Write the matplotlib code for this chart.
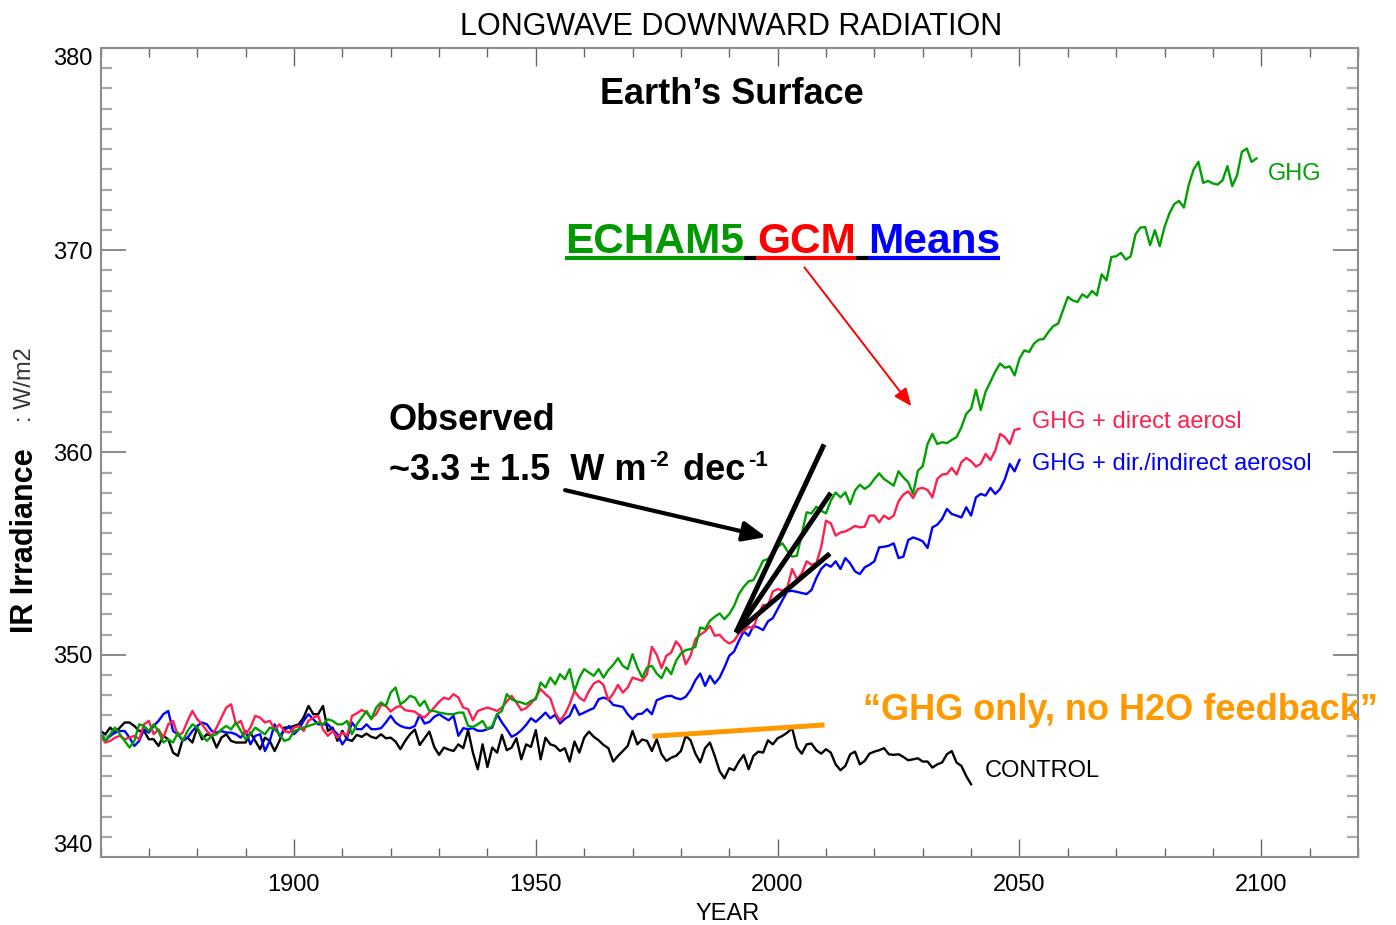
import numpy as np
import matplotlib
matplotlib.use("Agg")
import matplotlib.pyplot as plt
from matplotlib.lines import Line2D
from matplotlib.ticker import MultipleLocator

# ---------------- data ----------------
ghg = [
    346.15, 345.74, 346.07, 346.40, 346.07, 345.74, 345.41, 345.74, 346.56, 346.48,
    346.23, 346.56, 346.23, 345.66, 345.82, 345.66, 346.15, 345.74, 346.23, 346.56,
    346.40, 345.99, 345.74, 345.99, 346.07, 346.31, 346.48, 346.31, 346.65, 346.23,
    345.82, 346.07, 346.40, 346.23, 346.07, 346.40, 346.31, 346.07, 345.74, 345.82,
    346.23, 346.31, 346.40, 346.48, 346.56, 346.65, 346.56, 346.81, 346.73, 346.56,
    346.56, 346.73, 346.07, 346.56, 346.89, 347.22, 346.81, 347.39, 347.64, 347.47,
    348.13, 348.38, 347.55, 347.72, 347.97, 347.88, 347.47, 347.72, 347.22, 347.22,
    347.14, 347.10, 347.06, 347.06, 347.14, 347.14, 346.48, 346.43, 346.56, 346.73,
    346.32, 346.48, 347.06, 347.22, 348.05, 347.80, 347.69, 347.64, 347.55, 347.72,
    347.80, 348.63, 348.38, 348.87, 348.54, 349.04, 348.79, 349.29, 348.21, 348.87,
    349.29, 349.12, 348.96, 349.29, 348.87, 349.24, 349.50, 349.83, 349.45, 349.29,
    350.03, 349.37, 348.87, 349.37, 349.45, 349.07, 348.84, 349.37, 349.04, 349.70,
    350.06, 350.23, 350.28, 350.39, 351.35, 351.27, 351.68, 351.88, 352.04, 351.76,
    352.01, 352.42, 353.00, 353.36, 353.63, 353.69, 354.15, 354.65, 354.73, 355.06,
    355.34, 355.51, 355.14, 354.85, 354.90, 355.97, 357.04, 356.99, 357.32, 357.12,
    356.99, 357.62, 358.02, 357.78, 358.03, 357.45, 358.12, 358.41, 358.20, 358.36,
    358.69, 358.97, 358.69, 358.53, 358.36, 359.07, 358.77, 358.53, 357.95, 359.10,
    359.32, 360.42, 360.92, 360.42, 360.51, 360.46, 360.62, 360.76, 361.25, 361.91,
    362.16, 363.10, 362.10, 363.00, 363.50, 364.00, 364.40, 364.19, 364.26, 363.81,
    364.64, 365.05, 364.97, 365.38, 365.58, 365.61, 365.96, 366.25, 366.37, 367.03,
    367.69, 367.52, 367.44, 367.82, 367.66, 367.99, 367.77, 368.81, 368.51, 369.67,
    369.70, 369.87, 369.54, 369.70, 370.79, 371.12, 371.15, 370.25, 370.99, 370.20,
    371.15, 371.82, 372.28, 372.44, 372.11, 373.22, 373.99, 374.37, 373.33, 373.43,
    373.30, 373.25, 373.46, 374.16, 373.17, 373.71, 374.87, 375.03, 374.37, 374.54,
]
ghg_direct = [
    345.99, 345.66, 345.74, 345.90, 345.99, 345.82, 345.90, 345.99, 345.82, 346.56,
    346.73, 346.07, 346.31, 345.90, 346.56, 346.73, 345.99, 346.15, 346.73, 347.22,
    346.81, 346.56, 346.23, 345.99, 346.40, 346.89, 347.39, 347.55, 346.56, 346.73,
    346.07, 346.40, 346.98, 346.89, 346.65, 346.73, 346.31, 346.56, 346.23, 346.15,
    346.40, 346.48, 346.23, 346.73, 346.89, 346.98, 346.31, 345.99, 346.23, 345.90,
    346.15, 345.99, 346.98, 347.10, 347.27, 347.14, 346.86, 347.06, 347.52, 347.47,
    347.19, 347.39, 347.47, 347.26, 347.22, 347.19, 346.98, 346.90, 347.14, 347.39,
    347.67, 347.88, 347.80, 348.05, 347.88, 347.39, 347.31, 346.76, 347.22, 347.31,
    347.39, 347.31, 347.22, 347.39, 347.69, 347.97, 347.64, 347.26, 347.36, 347.59,
    347.88, 348.30, 348.05, 347.85, 347.14, 346.73, 347.06, 347.55, 348.21, 347.88,
    347.72, 348.21, 348.58, 348.71, 348.51, 347.75, 348.08, 348.51, 348.13, 348.38,
    348.87, 348.79, 348.71, 349.04, 350.39, 350.00, 349.34, 349.95, 350.11, 350.66,
    350.36, 349.53, 349.95, 350.77, 350.99, 351.15, 351.43, 350.94, 350.99, 350.72,
    350.56, 350.69, 351.05, 351.18, 351.38, 351.32, 352.01, 352.47, 352.42, 353.13,
    353.25, 353.16, 353.33, 354.24, 353.74, 354.02, 354.62, 354.45, 354.52, 355.31,
    356.63, 356.50, 355.89, 356.05, 356.10, 356.22, 356.37, 356.30, 356.33, 356.88,
    356.88, 356.55, 356.88, 356.71, 356.88, 357.59, 357.92, 358.08, 357.75, 358.20,
    358.25, 358.15, 357.78, 358.69, 358.91, 358.94, 359.24, 358.91, 359.52, 359.73,
    359.57, 359.30, 359.44, 359.93, 359.63, 360.10, 360.92, 360.76, 360.42, 361.12,
    361.17,
]
ghg_indirect = [
    346.15, 345.74, 345.99, 346.15, 346.23, 346.23, 345.90, 345.49, 345.74, 346.31,
    346.15, 346.48, 346.73, 347.06, 347.22, 346.23, 346.07, 345.74, 345.90, 346.23,
    346.48, 346.65, 346.56, 346.23, 346.15, 346.23, 346.15, 346.15, 346.07, 345.90,
    346.23, 345.57, 345.99, 346.07, 345.24, 345.74, 346.56, 345.99, 346.23, 346.48,
    346.07, 346.31, 346.73, 347.06, 346.81, 346.56, 346.56, 346.56, 346.31, 346.07,
    345.57, 345.90, 346.65, 346.32, 346.32, 346.56, 346.32, 346.32, 346.37, 346.65,
    346.98, 346.65, 346.48, 346.40, 346.37, 346.48, 347.03, 346.60, 346.68, 346.93,
    347.06, 346.90, 346.76, 346.98, 345.99, 346.37, 346.32, 346.37, 346.24, 346.24,
    346.32, 346.40, 347.06, 346.65, 346.32, 345.94, 346.07, 346.27, 346.53, 346.86,
    346.68, 346.90, 347.14, 346.86, 347.03, 346.60, 346.83, 346.98, 347.52, 347.03,
    347.14, 347.26, 347.36, 347.80, 347.88, 347.80, 347.52, 347.47, 347.42, 347.06,
    346.81, 347.06, 347.09, 347.31, 347.06, 347.75, 347.85, 347.95, 347.97, 347.85,
    347.80, 347.92, 348.25, 348.74, 349.07, 348.46, 348.96, 348.58, 348.87, 349.37,
    349.95, 350.16, 350.69, 351.15, 350.94, 351.43, 351.35, 351.22, 351.65, 351.81,
    352.26, 352.70, 353.13, 353.16, 353.11, 353.05, 353.00, 353.20, 353.79, 354.24,
    354.48, 354.35, 354.62, 354.24, 354.78, 354.52, 354.12, 353.99, 354.32, 354.45,
    354.62, 355.31, 355.34, 355.39, 355.51, 354.78, 354.85, 355.67, 355.80, 355.72,
    355.61, 355.28, 356.30, 356.43, 356.71, 357.21, 356.96, 356.88, 356.79, 357.29,
    356.88, 357.78, 357.95, 357.87, 358.25, 357.95, 358.20, 358.69, 359.43, 359.07,
    359.63,
]
control = [
    346.23, 346.07, 346.40, 346.15, 346.40, 346.65, 346.65, 346.48, 346.23, 346.23,
    345.82, 345.82, 345.49, 345.99, 345.82, 345.16, 345.00, 345.82, 345.90, 345.66,
    346.40, 345.82, 346.07, 345.99, 345.41, 345.90, 346.07, 345.74, 345.66, 345.66,
    345.66, 346.15, 345.74, 345.33, 345.90, 345.74, 345.24, 345.74, 346.40, 346.40,
    346.48, 346.56, 346.90, 347.47, 347.06, 347.06, 347.47, 346.23, 346.40, 345.74,
    346.24, 345.82, 345.74, 346.04, 345.94, 346.10, 345.94, 345.87, 346.07, 345.87,
    345.90, 345.71, 345.33, 345.74, 346.07, 346.30, 345.54, 345.87, 346.20, 345.44,
    345.05, 345.41, 345.31, 345.24, 345.57, 345.38, 346.27, 345.16, 344.34, 345.57,
    344.45, 345.41, 345.16, 346.04, 345.28, 345.41, 345.87, 344.83, 345.57, 345.44,
    346.27, 344.83, 345.90, 345.57, 345.49, 345.24, 345.38, 344.72, 345.71, 345.16,
    345.90, 346.20, 345.94, 345.77, 345.54, 345.38, 344.72, 345.00, 345.24, 345.49,
    346.23, 345.57, 345.81, 345.74, 345.24, 345.82, 345.08, 344.75, 344.91, 345.00,
    345.24, 345.99, 345.77, 345.11, 344.68, 345.38, 345.66, 345.00, 344.25, 343.89,
    344.39, 344.29, 344.72, 345.05, 344.34, 345.00, 345.21, 345.16, 345.77, 345.57,
    345.87, 345.99, 346.15, 346.37, 345.41, 345.11, 345.57, 345.61, 345.28, 345.11,
    345.33, 345.16, 344.58, 344.29, 344.50, 345.08, 345.21, 344.58, 344.75, 345.11,
    345.21, 345.28, 345.38, 345.08, 345.05, 345.08, 344.95, 344.78, 344.83, 344.88,
    344.72, 344.72, 344.42, 344.58, 344.67, 345.08, 345.24, 344.67, 344.50, 344.00,
    343.60,
]
yr_ghg = np.arange(1860, 1860 + len(ghg))
yr_aer = np.arange(1860, 1860 + len(ghg_direct))
yr_ctl = np.arange(1860, 1860 + len(control))

x_major = [1900, 1950, 2000, 2050, 2100]
y_major = [340, 350, 360, 370, 380]

# observed trend lines (start point shared, three end points)
trend_start = (1991.4, 351.1)
trend_ends = [(2009.6, 360.4), (2011.0, 358.0), (2010.8, 355.0)]
# "GHG only" line
ghg_only_x = [1974.1, 2009.7]
ghg_only_y = [345.97, 346.53]

GREEN = '#00a000'
RED = '#ff1f4f'
BLUE = '#0000ff'
ORANGE = '#ff9900'
AXC = '#8c8c8c'
FONT = 'Liberation Sans'

W, H = 1396, 925
def fx(px): return px / W
def fy(py): return 1 - py / H

fig = plt.figure(figsize=(W / 100, H / 100), dpi=100)
ax = fig.add_axes([fx(100.5), fy(857), fx(1358) - fx(100.5), fy(48) - fy(857)])

ax.plot(yr_ctl, control, color='black', lw=1.7)
ax.plot(yr_aer, ghg_indirect, color=BLUE, lw=1.7)
ax.plot(yr_aer, ghg_direct, color=RED, lw=1.7)
ax.plot(yr_ghg, ghg, color=GREEN, lw=1.7)

for ex, ey in trend_ends:
    ax.plot([trend_start[0], ex], [trend_start[1], ey], color='black', lw=3.6,
            solid_capstyle='butt')
ax.plot(ghg_only_x, ghg_only_y, color=ORANGE, lw=3.6, solid_capstyle='butt')

ax.set_xlim(1860, 2120)
ax.set_ylim(340, 380)
ax.set_xticks(x_major)
ax.set_yticks(y_major)
ax.xaxis.set_minor_locator(MultipleLocator(10))
ax.yaxis.set_minor_locator(MultipleLocator(1))
for s in ax.spines.values():
    s.set_color(AXC)
    s.set_linewidth(1.5)
ax.tick_params(axis='x', which='major', direction='in', top=True, length=13,
               width=1.0, color='#666666', pad=12, labelsize=17)
ax.tick_params(axis='x', which='minor', direction='in', top=True, length=6.5,
               width=1.0, color='#666666')
ax.tick_params(axis='y', which='major', direction='in', right=True, length=18,
               width=1.2, color='#777777', pad=6, labelsize=17)
ax.tick_params(axis='y', which='minor', direction='in', right=True, length=8,
               width=1.6, color='#aaaaaa')
for lab in ax.get_xticklabels() + ax.get_yticklabels():
    lab.set_family(FONT)
# IDL style: end labels sit inside the axis range
ylabs = ax.get_yticklabels()
ylabs[0].set_va('bottom')
ylabs[-1].set_va('top')

# arrows
ax.annotate('', xy=(2028.0, 362.18), xytext=(2005.2, 369.26),
            arrowprops=dict(arrowstyle='-|>,head_length=0.6,head_width=0.25',
                            color='red', lw=1.4, mutation_scale=18))
ax.annotate('', xy=(1998.2, 355.79), xytext=(1955.5, 358.17),
            arrowprops=dict(arrowstyle='-|>,head_length=0.7,head_width=0.3',
                            color='black', lw=3.0, mutation_scale=20))

# texts
fig.text(fx(731), fy(35), 'LONGWAVE DOWNWARD RADIATION', ha='center', va='baseline',
         family=FONT, fontsize=22)
fig.text(fx(732), fy(104), 'Earth\u2019s Surface', ha='center', va='baseline',
         family=FONT, fontweight='bold', fontsize=26)

fig.text(fx(565), fy(253), 'ECHAM5', color='#009900', family=FONT,
         fontweight='bold', fontsize=30.5, va='baseline')
fig.text(fx(757), fy(253), 'GCM', color='#ff0000', family=FONT,
         fontweight='bold', fontsize=30.5, va='baseline')
fig.text(fx(868), fy(253), 'Means', color=BLUE, family=FONT,
         fontweight='bold', fontsize=30.5, va='baseline')
for x0, x1, c in [(565, 744, '#009900'), (744, 756, 'black'), (756, 856, '#ff0000'),
                  (856, 868, 'black'), (868, 1000, BLUE)]:
    fig.add_artist(Line2D([fx(x0), fx(x1)], [fy(258), fy(258)], color=c, lw=3,
                          solid_capstyle='butt', transform=fig.transFigure))

fig.text(fx(389), fy(430), 'Observed', family=FONT, fontweight='bold',
         fontsize=26, va='baseline')

# rate line built from pieces so superscripts keep a plain hyphen
fig.canvas.draw()
renderer = fig.canvas.get_renderer()
x_cur = 389
for piece, size, base in [('~3.3 \u00b1 1.5  W m', 26, 480), ('-2', 16, 466),
                          (' dec', 26, 480), ('-1', 16, 466)]:
    t = fig.text(fx(x_cur), fy(base), piece, family=FONT, fontweight='bold',
                 fontsize=size, va='baseline')
    bb = t.get_window_extent(renderer)
    x_cur = bb.x1 + (4 if size < 20 else 3)

fig.text(fx(863), fy(720), '\u201cGHG only, no H2O feedback\u201d', color=ORANGE,
         family=FONT, fontweight='bold', fontsize=26, va='baseline')

fig.text(fx(1268), fy(180), 'GHG', color=GREEN, family=FONT, fontsize=17,
         va='baseline')
fig.text(fx(1032), fy(428), 'GHG + direct aerosl', color=RED, family=FONT,
         fontsize=17, va='baseline')
fig.text(fx(1032), fy(470), 'GHG + dir./indirect aerosol', color=BLUE,
         family=FONT, fontsize=17, va='baseline')
fig.text(fx(985), fy(777), 'CONTROL', color='black', family=FONT,
         fontsize=17, va='baseline')

fig.text(fx(728), fy(920), 'YEAR', ha='center', va='baseline', family=FONT,
         fontsize=17)
fig.text(fx(25), fy(541), 'IR Irradiance', rotation=90, ha='center', va='center',
         family=FONT, fontweight='bold', fontsize=22)
fig.text(fx(25), fy(385), ': W/m2', rotation=90, ha='center', va='center',
         family=FONT, fontsize=17, color='#333333')

fig.savefig('out.png', dpi=100)
